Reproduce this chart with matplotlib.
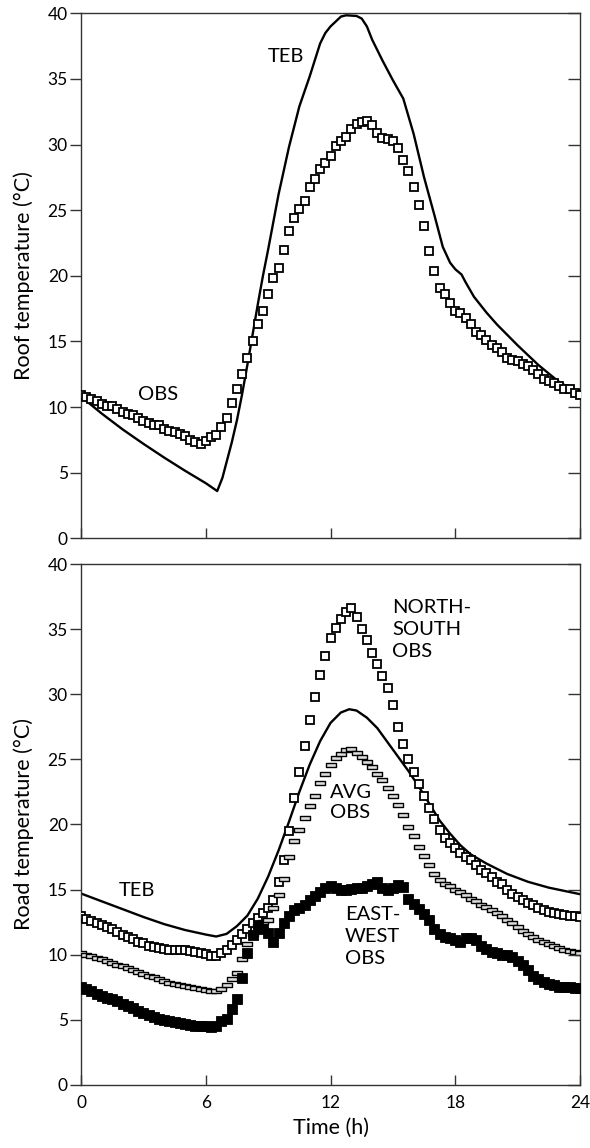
import numpy as np
import matplotlib
matplotlib.use('Agg')
import matplotlib.pyplot as plt
from matplotlib.path import Path

plt.rcParams['font.family'] = ['Lato', 'DejaVu Sans']

# observations every 15 min, 0 h .. 24 h
obs_step_h = 0.25

roof_obs = [
    10.9, 10.8, 10.6, 10.45, 10.2, 10.1, 10.05, 9.85, 9.6, 9.45, 9.4, 9.15,
    8.95, 8.75, 8.65, 8.6, 8.35, 8.2, 8.1, 7.95, 7.8, 7.5, 7.3, 7.15,
    7.45, 7.75, 7.9, 8.45, 9.2, 10.3, 11.4, 12.5, 13.7, 15.05, 16.3, 17.3,
    18.6, 19.8, 20.6, 22.0, 23.4, 24.4, 25.1, 25.7, 26.8, 27.4, 28.1, 28.6,
    29.1, 29.9, 30.3, 30.6, 31.2, 31.6, 31.7, 31.8, 31.5, 30.9, 30.5, 30.45,
    30.3, 29.7, 28.85, 28.0, 26.8, 25.4, 23.8, 21.9, 20.4, 19.1, 18.65, 17.95,
    17.35, 17.15, 16.8, 16.3, 15.75, 15.5, 15.1, 14.7, 14.5, 14.2, 13.7, 13.6,
    13.5, 13.3, 13.1, 12.85, 12.5, 12.15, 11.95, 11.8, 11.6, 11.4, 11.35, 11.1,
    10.9]

roof_teb_h = [0, 0.5, 1, 2, 3, 4, 5, 6, 6.55, 6.8, 7, 7.25, 7.5, 7.75, 8, 8.25,
              8.5, 8.75, 9, 9.5, 10, 10.5, 11, 11.5, 11.75, 12, 12.5, 12.75,
              13.25, 13.5, 13.75, 14, 14.5, 15, 15.5, 16, 16.5, 17, 17.4,
              17.75, 18, 18.3, 18.5, 18.9, 19.5, 20, 21, 22, 23, 24]
roof_teb = [10.8, 10.15, 9.5, 8.3, 7.2, 6.15, 5.15, 4.2, 3.6, 4.6, 5.8, 7.3,
            9.0, 11.0, 13.2, 15.5, 17.8, 20.0, 22.0, 26.2, 29.8, 32.9, 35.2,
            37.7, 38.5, 39.0, 39.75, 39.85, 39.8, 39.6, 39.0, 38.0, 36.4, 34.9,
            33.5, 30.8, 27.5, 24.6, 22.2, 21.0, 20.5, 20.1, 19.5, 18.4, 17.2,
            16.3, 14.7, 13.2, 11.9, 11.0]

road_ns_obs = [
    12.95, 12.75, 12.6, 12.45, 12.25, 12.1, 11.95, 11.75, 11.55, 11.35, 11.2, 11.0,
    10.9, 10.7, 10.6, 10.5, 10.45, 10.4, 10.4, 10.4, 10.35, 10.3, 10.2, 10.1,
    10.05, 9.9, 9.9, 10.1, 10.4, 10.75, 11.15, 11.6, 12.0, 12.4, 12.8, 13.2,
    13.6, 14.2, 15.6, 17.3, 19.5, 22.0, 24.0, 26.0, 28.0, 29.8, 31.5, 32.9,
    34.3, 35.1, 35.8, 36.3, 36.6, 35.9, 35.0, 34.2, 33.2, 32.3, 31.4, 30.5,
    29.2, 27.5, 26.2, 25.0, 24.0, 23.1, 22.2, 21.3, 20.4, 19.6, 19.0, 18.6,
    18.2, 17.8, 17.5, 17.3, 16.9, 16.5, 16.3, 16.0, 15.6, 15.4, 15.0, 14.7,
    14.4, 14.2, 14.0, 13.8, 13.6, 13.4, 13.3, 13.2, 13.15, 13.05, 13.0, 12.95,
    12.9]

road_avg_obs = [
    10.1, 10.0, 9.9, 9.75, 9.65, 9.5, 9.4, 9.25, 9.1, 9.0, 8.85, 8.7,
    8.55, 8.4, 8.3, 8.15, 8.0, 7.85, 7.75, 7.7, 7.6, 7.5, 7.45, 7.4,
    7.3, 7.25, 7.2, 7.4, 7.7, 8.1, 8.6, 9.7, 10.8, 11.6, 12.2, 12.5,
    12.7, 13.6, 14.6, 15.8, 17.5, 18.7, 19.6, 20.5, 21.4, 22.2, 23.2, 23.9,
    24.6, 25.1, 25.4, 25.7, 25.8, 25.5, 25.2, 24.8, 24.4, 23.9, 23.4, 22.8,
    22.2, 21.5, 20.7, 19.8, 19.1, 18.3, 17.6, 16.9, 16.2, 15.7, 15.45, 15.25,
    15.0, 14.8, 14.55, 14.3, 14.1, 13.85, 13.65, 13.45, 13.2, 12.95, 12.7, 12.4,
    12.1, 11.85, 11.6, 11.35, 11.1, 10.95, 10.8, 10.65, 10.5, 10.35, 10.3, 10.2,
    10.15]

road_ew_obs = [
    7.55, 7.35, 7.2, 7.0, 6.85, 6.7, 6.6, 6.45, 6.25, 6.05, 5.9, 5.7,
    5.55, 5.4, 5.25, 5.1, 5.0, 4.9, 4.8, 4.75, 4.7, 4.6, 4.55, 4.5,
    4.5, 4.45, 4.55, 4.9, 5.1, 5.85, 6.6, 8.25, 10.1, 11.5, 12.3, 12.0,
    11.7, 11.0, 11.7, 12.4, 13.0, 13.4, 13.6, 13.8, 14.2, 14.5, 14.85, 15.1,
    15.3, 15.1, 15.0, 15.0, 15.05, 15.1, 15.15, 15.3, 15.45, 15.6, 15.1, 15.0,
    15.1, 15.35, 15.2, 14.3, 13.9, 13.5, 13.1, 12.7, 12.0, 11.6, 11.4, 11.3,
    11.1, 11.0, 11.3, 11.3, 11.1, 10.7, 10.45, 10.2, 10.1, 10.0, 9.95, 9.8,
    9.5, 9.2, 8.8, 8.35, 8.1, 7.9, 7.75, 7.65, 7.55, 7.5, 7.5, 7.45,
    7.45]

road_teb_h = [0, 1, 2, 3, 4, 5, 6, 6.5, 7, 7.5, 8, 8.5, 9, 9.5, 10, 10.5, 11,
              11.5, 12, 12.5, 12.9, 13.25, 13.75, 14.25, 14.75, 15.25, 15.75,
              16.25, 16.75, 17.25, 17.75, 18.25, 18.75, 19.5, 20.5, 21.5,
              22.5, 23.25, 24]
road_teb = [14.7, 14.1, 13.5, 12.9, 12.35, 11.9, 11.55, 11.4, 11.6, 12.2, 13.0,
            14.3, 16.0, 18.0, 20.2, 22.5, 24.6, 26.4, 27.8, 28.6, 28.85, 28.75,
            28.2, 27.4, 26.3, 25.2, 24.1, 22.9, 21.6, 20.3, 19.3, 18.4, 17.7,
            17.0, 16.2, 15.6, 15.15, 14.9, 14.65]

xticks = [0, 6, 12, 18, 24]
yticks = [0, 5, 10, 15, 20, 25, 30, 35, 40]

t_obs = np.arange(len(roof_obs)) * obs_step_h

flat_box = Path([(-1, -0.42), (1, -0.42), (1, 0.42), (-1, 0.42), (-1, -0.42)],
                [Path.MOVETO, Path.LINETO, Path.LINETO, Path.LINETO, Path.CLOSEPOLY])

fig = plt.figure(figsize=(5.9, 11.48), dpi=100)
ax1 = fig.add_axes([0.1373, 0.5311, 0.8458, 0.4573])
ax2 = fig.add_axes([0.1373, 0.0549, 0.8458, 0.4538])

spine_col = '#333333'
lab_fs = 15.5
note_fs = 14.5
for ax in (ax1, ax2):
    ax.set_xlim(0, 24)
    ax.set_ylim(0, 40)
    ax.set_xticks(xticks)
    ax.set_yticks(yticks)
    for s in ax.spines.values():
        s.set_color(spine_col)
        s.set_linewidth(1.0)
    ax.tick_params(axis='y', direction='out', length=8, width=1.0,
                   color=spine_col, labelsize=12.5, pad=1.5)
    ax.tick_params(axis='x', direction='in', length=7, width=1.0,
                   color=spine_col, labelsize=12.5, pad=7)
    rt = ax.twinx()
    rt.set_ylim(0, 40)
    rt.set_yticks(yticks)
    rt.tick_params(axis='y', direction='in', length=9, width=1.0,
                   color=spine_col, labelright=False)
    rt.spines[:].set_visible(False)

ax1.tick_params(axis='x', labelbottom=False)

# roof
ax1.plot(roof_teb_h, roof_teb, color='black', lw=1.7, zorder=2)
ax1.plot(t_obs, roof_obs, ls='none', marker='s', ms=5.6, mfc='white',
         mec='black', mew=1.3, zorder=3)
ax1.text(9.86, 36.7, 'TEB', fontsize=note_fs, ha='center', va='center')
ax1.text(3.69, 10.96, 'OBS', fontsize=note_fs, ha='center', va='center')
ax1.set_ylabel('Roof temperature (°C)', fontsize=lab_fs, labelpad=10)

# road
ax2.plot(road_teb_h, road_teb, color='black', lw=1.7, zorder=2)
ax2.plot(t_obs, road_ns_obs, ls='none', marker='s', ms=5.6, mfc='white',
         mec='black', mew=1.3, zorder=3)
ax2.plot(t_obs, road_avg_obs, ls='none', marker=flat_box, ms=7, mfc='#dddddd',
         mec='black', mew=1.0, zorder=3)
ax2.plot(t_obs, road_ew_obs, ls='none', marker='s', ms=6.5, mfc='black',
         mec='black', mew=0.6, zorder=3)
ax2.text(2.68, 14.9, 'TEB', fontsize=note_fs, ha='center', va='center')
ax2.text(14.98, 37.3, 'NORTH-\nSOUTH\nOBS', fontsize=note_fs, ha='left',
         va='top', linespacing=1.35)
ax2.text(11.98, 23.1, 'AVG\nOBS', fontsize=note_fs, ha='left', va='top',
         linespacing=1.2)
ax2.text(12.69, 13.75, 'EAST-\nWEST\nOBS', fontsize=note_fs, ha='left',
         va='top', linespacing=1.35)
ax2.set_ylabel('Road temperature (°C)', fontsize=lab_fs, labelpad=10)
ax2.set_xlabel('Time (h)', fontsize=lab_fs, labelpad=5)

fig.savefig('out.png', dpi=100)
